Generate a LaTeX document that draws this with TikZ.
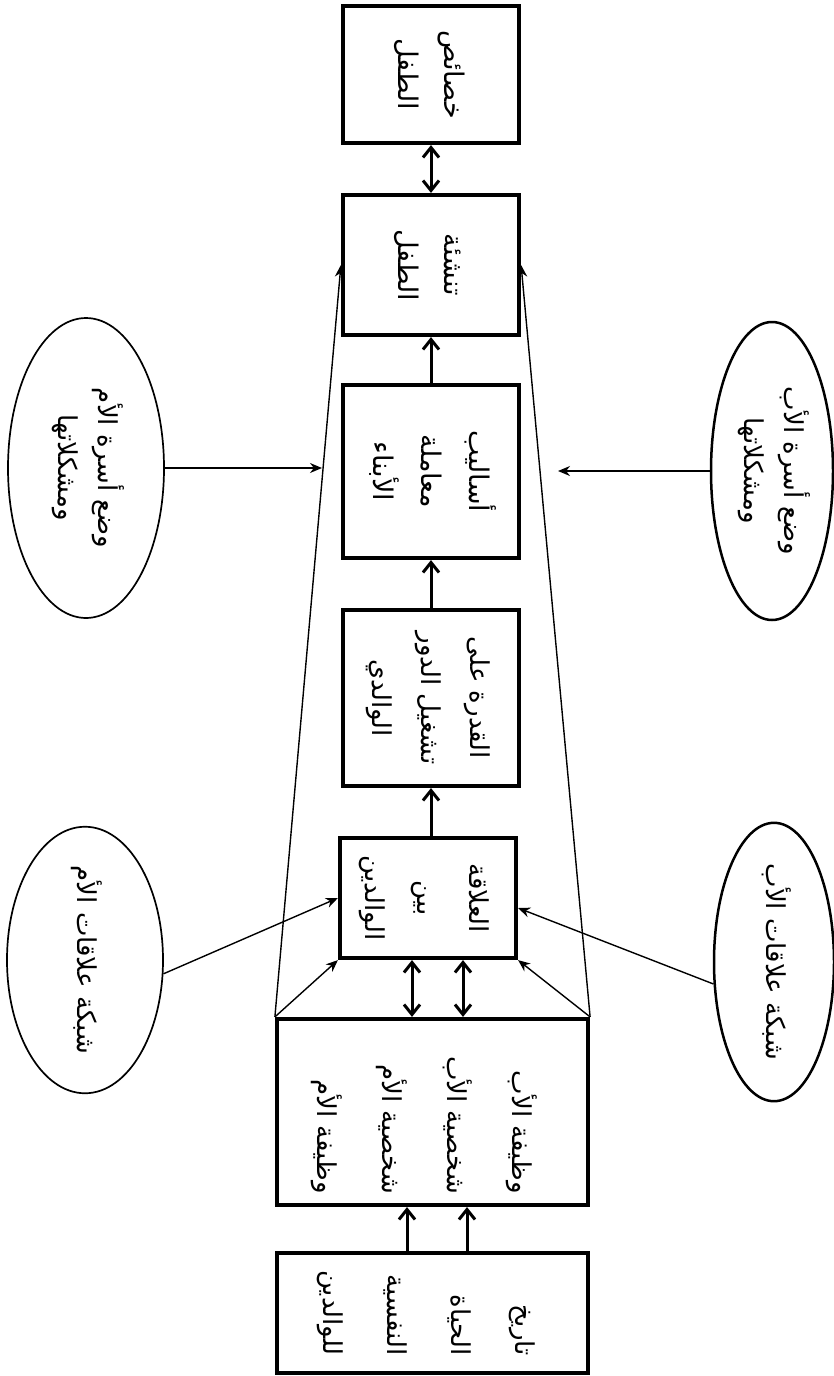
\documentclass[tikz,border=0pt]{standalone}
\usepackage{fontspec}
\usetikzlibrary{shapes.geometric,arrows.meta}
\newfontfamily\arabicfont[Script=Arabic]{DejaVu Sans}
\TeXXeTstate=1
\newcommand{\rtl}[1]{\beginR#1\endR}
\newcommand{\vt}[4]{\rotatebox{-90}{\fontsize{#1}{#2}\arabicfont\selectfont\begin{tabular}{@{}#3@{}}#4\end{tabular}}}
\begin{document}
\begin{tikzpicture}[x=1pt,y=-1pt,
  box/.style={draw, line width=4.2pt, inner sep=0pt},
  ell/.style={draw, ellipse, inner sep=0pt},
  bigarrow/.style={line width=3pt, -{Straight Barb[length=10pt,width=16pt]}},
  biarrow/.style={line width=3pt, {Straight Barb[length=10pt,width=16pt]}-{Straight Barb[length=10pt,width=16pt]}},
  thinarrow/.style={line width=1.4pt, -{Stealth[length=12pt,width=10pt]}}
]
\useasboundingbox (0,0) rectangle (834,1376);
% chain boxes
\node[box, minimum width=176pt, minimum height=137pt] (b1) at (431,74.5)
  {\vt{27pt}{46pt}{c}{\rtl{خصائص}\\\rtl{الطفل}}};
\node[box, minimum width=176pt, minimum height=140pt] (b2) at (431,265)
  {\vt{27pt}{46pt}{c}{\rtl{تنشئة}\\\rtl{الطفل}}};
\node[box, minimum width=176pt, minimum height=173pt] (b3) at (431,471.5)
  {\vt{27pt}{48pt}{c}{\rtl{أساليب}\\\rtl{معاملة}\\\rtl{الأبناء}}};
\node[box, minimum width=176pt, minimum height=176pt] (b4) at (431,698)
  {\vt{26pt}{49pt}{c}{\rtl{القدرة على}\\\rtl{تشغيل الدور}\\\rtl{الوالدي}}};
\node[box, minimum width=176pt, minimum height=120pt] (b5) at (428,898)
  {\vt{26pt}{52pt}{c}{\rtl{العلاقة}\\\rtl{بين}\\\rtl{الوالدين}}};
\node[box, minimum width=311pt, minimum height=186pt] (b6) at (432.5,1112) {};
\node (t6) at (428,1125)
  {\vt{26pt}{65pt}{r}{\rtl{وظيفة الأب}\\\rtl{شخصية الأب}\\\rtl{شخصية الأم}\\\rtl{وظيفة الأم}}};
\node[box, minimum width=311pt, minimum height=120pt] (b7) at (432.5,1313)
  {\vt{26pt}{64pt}{r}{\rtl{تاريخ}\\\rtl{الحياة}\\\rtl{النفسية}\\\rtl{للوالدين}}};
% ellipses
\node[ell, line width=1.7pt, minimum width=156pt, minimum height=300pt] (eA) at (86,468)
  {\vt{26pt}{40pt}{c}{\rtl{وضع أسرة الأم}\\\rtl{ومشكلاتها}}};
\node[ell, line width=2.5pt, minimum width=122pt, minimum height=298pt] (eB) at (772,471)
  {\vt{26pt}{40pt}{c}{\rtl{وضع أسرة الأب}\\\rtl{ومشكلاتها}}};
\node[ell, line width=1.7pt, minimum width=156pt, minimum height=248pt] (eC) at (85,960)
  {\vt{26pt}{40pt}{c}{\rtl{شبكة علاقات الأم}}};
\node[ell, line width=2.5pt, minimum width=120pt, minimum height=250pt] (eD) at (774,962)
  {\vt{26pt}{40pt}{c}{\rtl{شبكة علاقات الأب}}};
% helper coordinates
\coordinate (pA) at (322,468);
\coordinate (pB) at (558,471);
\coordinate (xa) at (412,0);
\coordinate (xb) at (463,0);
\coordinate (xc) at (407,0);
\coordinate (xd) at (467,0);
% chain arrows
\draw[biarrow] (b1.south) -- (b2.north);
\draw[bigarrow] (b3.north) -- (b2.south);
\draw[bigarrow] (b4.north) -- (b3.south);
\draw[bigarrow] (b5.north -| b4.south) -- (b4.south);
\draw[biarrow] (xa |- b6.north) -- (xa |- b5.south);
\draw[biarrow] (xb |- b6.north) -- (xb |- b5.south);
\draw[bigarrow] (xc |- b7.north) -- (xc |- b6.south);
\draw[bigarrow] (xd |- b7.north) -- (xd |- b6.south);
% thin connectors
\draw[thinarrow] (b6.north west) -- (b5.south west);
\draw[thinarrow] (b6.north east) -- (b5.south east);
\draw[thinarrow] (b6.north west) -- (b2.west);
\draw[thinarrow] (b6.north east) -- (b2.east);
\draw[thinarrow] (eA.east) -- (pA);
\draw[thinarrow] (eB.west) -- (pB);
\draw[thinarrow] (eC.-10) -- (b5.west);
\draw[thinarrow] (eD.200) -- ([yshift=-10pt]b5.east);
\end{tikzpicture}
\end{document}
